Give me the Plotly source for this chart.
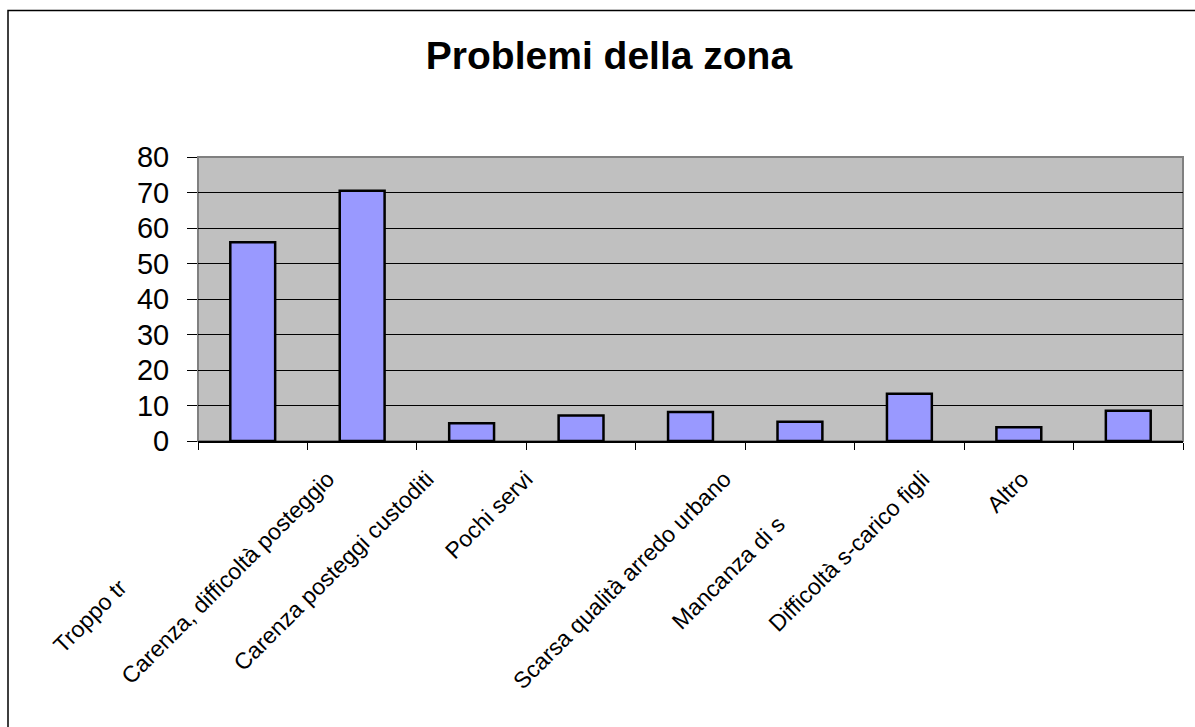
import plotly.graph_objects as go

# ---- data ----
categories = ["Troppo tr", "Carenza, difficoltà posteggio", "Carenza posteggi custoditi",
              "Pochi servi", "(senza etichetta)", "Scarsa qualità arredo urbano",
              "Mancanza di s", "Difficoltà s-carico figli", "Altro"]
tick_labels = ["Troppo tr", "Carenza, difficoltà posteggio", "Carenza posteggi custoditi",
               "Pochi servi", "", "Scarsa qualità arredo urbano",
               "Mancanza di s", "Difficoltà s-carico figli", "Altro"]
values = [56, 70.5, 5, 7.2, 8.2, 5.4, 13.3, 3.9, 8.5]
y_ticks = [0, 10, 20, 30, 40, 50, 60, 70, 80]
title_text = "Problemi della zona"

# ---- styling ----
W, H = 1195, 727
ML, MR, MT, MB = 198, 12, 157, 286
PW, PH = W - ML - MR, H - MT - MB
FONT = "Liberation Sans, Arial, sans-serif"

# the clipped labels keep their hidden tail as blank space (as in the original)
label_pad = {0: 24, 3: 0, 6: 10}
ticktext = [t + "\u00a0" * label_pad.get(i, 0) for i, t in enumerate(tick_labels)]
label_index = list(range(len(tick_labels)))
LABEL_SCALE = 0.906  # the original spaces its labels a little tighter than its bars

def px_x(p):
    return (p - ML) / PW

def px_y(p):
    return (H - MB - p) / PH

fig = go.Figure()
fig.add_trace(go.Bar(
    x=categories, y=values,
    marker=dict(color="#9999FF", line=dict(color="black", width=2.5)),
    hoverinfo="x+y",
))
# carrier for the category-label axis (draws nothing)
fig.add_trace(go.Scatter(
    x=label_index, y=[0] * len(label_index), xaxis="x2", yaxis="y",
    mode="markers", marker=dict(opacity=0, size=1), hoverinfo="skip",
))

fig.update_layout(
    width=W, height=H,
    margin=dict(l=ML, r=MR, t=MT, b=MB, pad=0, autoexpand=False),
    paper_bgcolor="white",
    plot_bgcolor="#C0C0C0",
    showlegend=False,
    bargap=0.59,
    font=dict(family=FONT, color="black"),
    title=dict(text="<b>" + title_text + "</b>", x=609 / W, xanchor="center",
               y=1 - 55 / H, yanchor="middle", yref="container", automargin=False,
               font=dict(family=FONT, size=39, color="black")),
    xaxis=dict(
        type="category",
        showticklabels=False, tickson="boundaries",
        ticks="outside", ticklen=7, tickcolor="black", tickwidth=1,
        showline=True, linecolor="black", linewidth=1.5,
        showgrid=False, zeroline=False, automargin=False,
        fixedrange=True,
    ),
    xaxis2=dict(
        overlaying="x", anchor="y", side="bottom",
        range=[-0.5, -0.5 + len(tick_labels) / LABEL_SCALE],
        tickmode="array", tickvals=label_index, ticktext=ticktext,
        tickangle=-45, ticks="", ticklen=7,
        ticklabelshift=-19, ticklabelstandoff=19,
        showline=False, showgrid=False, zeroline=False, automargin=False,
        tickfont=dict(family=FONT, size=23, color="black"),
        fixedrange=True,
    ),
    yaxis=dict(
        range=[0, 80], tickmode="array", tickvals=y_ticks,
        ticks="outside", ticklen=10, tickcolor="black", tickwidth=1,
        ticklabelstandoff=12,
        showgrid=True, gridcolor="black", gridwidth=1,
        showline=False, zeroline=False, automargin=False,
        tickfont=dict(family=FONT, size=29, color="black"),
        fixedrange=True,
    ),
)

# plot-area border (grey) and outer chart frame (black, cut by the image edge)
fig.add_shape(type="rect", xref="paper", yref="paper", x0=0, x1=1, y0=0, y1=1,
              line=dict(color="#808080", width=2), layer="between")
fig.add_shape(type="rect", xref="paper", yref="paper",
              x0=px_x(8), x1=px_x(1230), y0=px_y(760), y1=px_y(10.5),
              line=dict(color="black", width=1.5), layer="above")

fig.write_html("out.html", config={"displayModeBar": False})
